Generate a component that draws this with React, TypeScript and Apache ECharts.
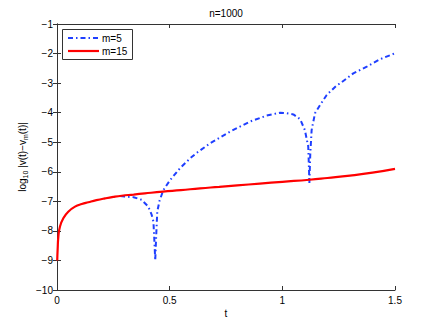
import React, { useEffect, useRef } from "react";
import * as echarts from "echarts";

const titleText = "n=1000";
const xName = "t";
const xTicks = [0, 0.5, 1, 1.5];
const yMin = -10;
const yMax = -1;

const redName = "m=15";
const redT = [0.001, 0.003, 0.006, 0.013, 0.028, 0.05, 0.08, 0.11, 0.139, 0.175, 0.213, 0.25, 0.287, 0.34, 0.39, 0.47, 0.55, 0.635, 0.72, 0.8, 0.9, 1.0, 1.12, 1.2, 1.3, 1.4, 1.5];
const redV = [-9.0, -8.6, -8.2, -7.86, -7.57, -7.35, -7.18, -7.09, -7.03, -6.96, -6.9, -6.85, -6.81, -6.77, -6.73, -6.67, -6.62, -6.56, -6.51, -6.46, -6.4, -6.34, -6.27, -6.21, -6.13, -6.03, -5.9];

const blueName = "m=5";
const blueT = [0.28, 0.3, 0.34, 0.376, 0.405, 0.42, 0.428, 0.432, 0.436, 0.44, 0.445, 0.455, 0.472, 0.502, 0.546, 0.59, 0.62, 0.679, 0.768, 0.857, 0.93, 0.99, 1.02, 1.049, 1.079, 1.1, 1.115, 1.118, 1.12, 1.124, 1.13, 1.145, 1.167, 1.197, 1.212, 1.241, 1.256, 1.315, 1.375, 1.434, 1.5];
const blueV = [-6.82, -6.84, -6.86, -6.95, -7.18, -7.45, -7.69, -8.31, -9.0, -8.2, -7.35, -6.98, -6.62, -6.28, -5.88, -5.55, -5.36, -5.04, -4.64, -4.3, -4.1, -4.0, -4.02, -4.06, -4.22, -4.59, -5.15, -5.83, -6.38, -5.4, -4.59, -4.02, -3.75, -3.4, -3.29, -3.08, -3.01, -2.67, -2.44, -2.19, -1.99];

const FONT = "'Liberation Sans', Arial, Helvetica, sans-serif";
const AXIS_COLOR = "#333";
const BLUE = "#1f3fff";
const RED = "#ff0000";
const BLUE_DASH = [5, 3, 1.5, 3];

const fmt = (v: number) => (v < 0 ? "\u2212" + Math.abs(v) : String(v));

export default function App() {
  const ref = useRef<HTMLDivElement>(null);
  useEffect(() => {
    if (!ref.current) return;
    const chart = echarts.init(ref.current, null, { renderer: "svg" });
    const gridL = 57, gridT = 24, gridW = 338, gridH = 266;
    const axisCommon = {
      axisLine: { show: true, lineStyle: { color: AXIS_COLOR, width: 1 } },
      axisTick: { show: true, inside: true, length: 4, lineStyle: { color: AXIS_COLOR } },
      splitLine: { show: false },
    };
    const lgX = 62, lgY = 29, lgW = 70, lgH = 30;
    chart.setOption({
      animation: false,
      backgroundColor: "#fff",
      textStyle: { fontFamily: FONT },
      grid: { left: gridL, top: gridT, width: gridW, height: gridH, containLabel: false },
      xAxis: [
        {
          type: "value",
          min: xTicks[0],
          max: xTicks[xTicks.length - 1],
          interval: 0.5,
          ...axisCommon,
          axisLabel: { fontSize: 10, color: "#000", margin: 5, fontFamily: FONT, formatter: (v: number) => fmt(v) },
        },
        {
          type: "value",
          position: "top",
          min: xTicks[0],
          max: xTicks[xTicks.length - 1],
          interval: 0.5,
          ...axisCommon,
          axisLabel: { show: false },
        },
      ],
      yAxis: [
        {
          type: "value",
          min: yMin,
          max: yMax,
          interval: 1,
          ...axisCommon,
          axisLabel: { fontSize: 10, color: "#000", margin: 4, fontFamily: FONT, formatter: (v: number) => fmt(v) },
        },
        {
          type: "value",
          position: "right",
          min: yMin,
          max: yMax,
          interval: 1,
          ...axisCommon,
          axisLabel: { show: false },
        },
      ],
      series: [
        {
          name: blueName,
          type: "line",
          data: blueT.map((t, i) => [t, blueV[i]]),
          symbol: "none",
          showSymbol: false,
          smooth: false,
          lineStyle: { color: BLUE, width: 2, type: BLUE_DASH },
          itemStyle: { color: BLUE },
          z: 2,
        },
        {
          name: redName,
          type: "line",
          data: redT.map((t, i) => [t, redV[i]]),
          symbol: "none",
          showSymbol: false,
          smooth: true,
          lineStyle: { color: RED, width: 2.2 },
          itemStyle: { color: RED },
          z: 3,
        },
      ],
      graphic: [
        {
          type: "text",
          x: gridL + gridW / 2,
          y: 13,
          style: { text: titleText, fontSize: 10, fontFamily: FONT, fill: "#000", align: "center", verticalAlign: "middle" },
        },
        {
          type: "text",
          x: gridL + gridW / 2,
          y: 313,
          style: { text: xName, fontSize: 10, fontFamily: FONT, fill: "#000", align: "center", verticalAlign: "middle" },
        },
        {
          type: "text",
          x: 22,
          y: 157,
          rotation: Math.PI / 2,
          style: {
            text: "{a|log}{s|10}{a| |v(t)\u2212v}{s|m}{a|(t)|}",
            align: "center",
            verticalAlign: "middle",
            fill: "#000",
            rich: {
              a: { fontSize: 10, fontFamily: FONT, fill: "#000", lineHeight: 13, verticalAlign: "middle" },
              s: { fontSize: 7, fontFamily: FONT, fill: "#000", lineHeight: 7, verticalAlign: "bottom" },
            },
          },
        },
        {
          type: "group",
          z: 100,
          children: [
            {
              type: "rect",
              shape: { x: lgX + 0.5, y: lgY + 0.5, width: lgW, height: lgH },
              style: { fill: "#fff", stroke: "#333", lineWidth: 1 },
            },
            {
              type: "line",
              shape: { x1: lgX + 6, y1: lgY + 9, x2: lgX + 37, y2: lgY + 9 },
              style: { stroke: BLUE, lineWidth: 2, lineDash: BLUE_DASH },
            },
            {
              type: "text",
              x: lgX + 40,
              y: lgY + 9,
              style: { text: blueName, fontSize: 10, fontFamily: FONT, fill: "#000", align: "left", verticalAlign: "middle" },
            },
            {
              type: "line",
              shape: { x1: lgX + 6, y1: lgY + 22, x2: lgX + 37, y2: lgY + 22 },
              style: { stroke: RED, lineWidth: 2.2 },
            },
            {
              type: "text",
              x: lgX + 40,
              y: lgY + 22,
              style: { text: redName, fontSize: 10, fontFamily: FONT, fill: "#000", align: "left", verticalAlign: "middle" },
            },
          ],
        },
      ],
    });
    return () => chart.dispose();
  }, []);
  return <div ref={ref} style={{ position: "fixed", left: 0, top: 0, width: 436, height: 327 }} />;
}
